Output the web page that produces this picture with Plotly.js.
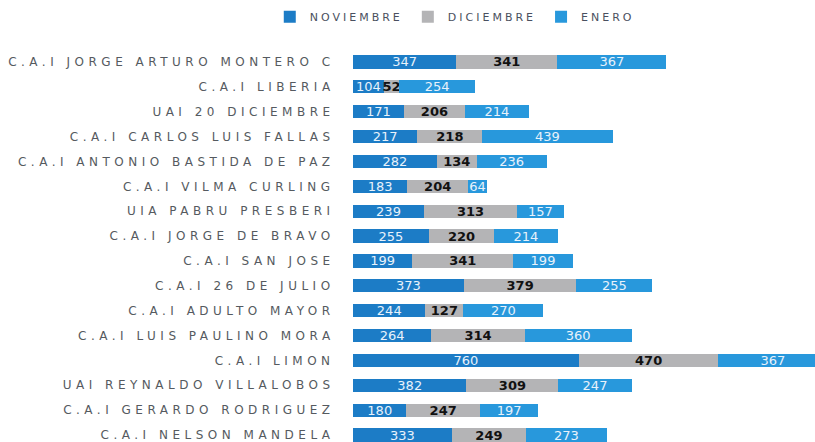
<!DOCTYPE html>
<html>
<head>
<meta charset="utf-8">
<script src="https://cdn.plot.ly/plotly-3.0.1.min.js"></script>
<style>
  html, body { margin: 0; padding: 0; background: #ffffff; }
  #chart { width: 815px; height: 442px; }
  .ytick text { letter-spacing: 4.5px; }
  .legendtext { letter-spacing: 3px; }
</style>
</head>
<body>
<div id="chart"></div>
<script>
const categories = [
  "C.A.I JORGE ARTURO MONTERO C",
  "C.A.I LIBERIA",
  "UAI 20 DICIEMBRE",
  "C.A.I CARLOS LUIS FALLAS",
  "C.A.I ANTONIO BASTIDA DE PAZ",
  "C.A.I VILMA CURLING",
  "UIA PABRU PRESBERI",
  "C.A.I JORGE DE BRAVO",
  "C.A.I SAN JOSE",
  "C.A.I 26 DE JULIO",
  "C.A.I ADULTO MAYOR",
  "C.A.I LUIS PAULINO MORA",
  "C.A.I LIMON",
  "UAI REYNALDO VILLALOBOS",
  "C.A.I GERARDO RODRIGUEZ",
  "C.A.I NELSON MANDELA"
];
const noviembre = [347, 104, 171, 217, 282, 183, 239, 255, 199, 373, 244, 264, 760, 382, 180, 333];
const diciembre = [341, 52, 206, 218, 134, 204, 313, 220, 341, 379, 127, 314, 470, 309, 247, 249];
const enero     = [367, 254, 214, 439, 236, 64, 157, 214, 199, 255, 270, 360, 367, 247, 197, 273];
const seriesNames = ["NOVIEMBRE", "DICIEMBRE", "ENERO"];

const common = {
  type: 'bar',
  orientation: 'h',
  y: categories,
  textposition: 'inside',
  insidetextanchor: 'middle',
  textangle: 0,
  constraintext: 'none',
  cliponaxis: true,
  hoverinfo: 'skip'
};

const data = [
  Object.assign({}, common, {
    name: seriesNames[0], x: noviembre, text: noviembre.map(String),
    marker: {color: '#1c7cc6'},
    textfont: {family: 'DejaVu Sans', size: 13, color: '#e8f2fb'}
  }),
  Object.assign({}, common, {
    name: seriesNames[1], x: diciembre, text: diciembre.map(String),
    marker: {color: '#b4b4b6'},
    textfont: {family: 'DejaVu Sans', size: 13, color: '#111111', weight: 'bold'}
  }),
  Object.assign({}, common, {
    name: seriesNames[2], x: enero, text: enero.map(String),
    marker: {color: '#2898dc'},
    textfont: {family: 'DejaVu Sans', size: 13, color: '#e8f2fb'}
  })
];

const layout = {
  width: 815, height: 442,
  paper_bgcolor: '#ffffff', plot_bgcolor: '#ffffff',
  barmode: 'stack',
  bargap: 0.47,
  margin: {l: 353, r: 0, t: 50, b: 0, pad: 0},
  uniformtext: {mode: 'show', minsize: 13},
  showlegend: true,
  legend: {
    orientation: 'h',
    traceorder: 'normal',
    xref: 'container', yref: 'container',
    x: 0.558, xanchor: 'center',
    y: 0.995, yanchor: 'top',
    font: {family: 'DejaVu Sans', size: 11, color: '#4a5060'},
    itemwidth: 30,
    tracegroupgap: 0
  },
  xaxis: {
    range: [0, 1555],
    visible: false,
    showgrid: false, zeroline: false, fixedrange: true
  },
  yaxis: {
    type: 'category',
    range: [15.28, -0.48],
    showgrid: false, zeroline: false, showline: false,
    ticks: 'outside', ticklen: 15, tickcolor: 'rgba(0,0,0,0)',
    tickfont: {family: 'DejaVu Sans', size: 12, color: '#555a60'},
    automargin: false
  },
  font: {family: 'DejaVu Sans'}
};

Plotly.newPlot('chart', data, layout, {displayModeBar: false, staticPlot: true});
</script>
</body>
</html>
